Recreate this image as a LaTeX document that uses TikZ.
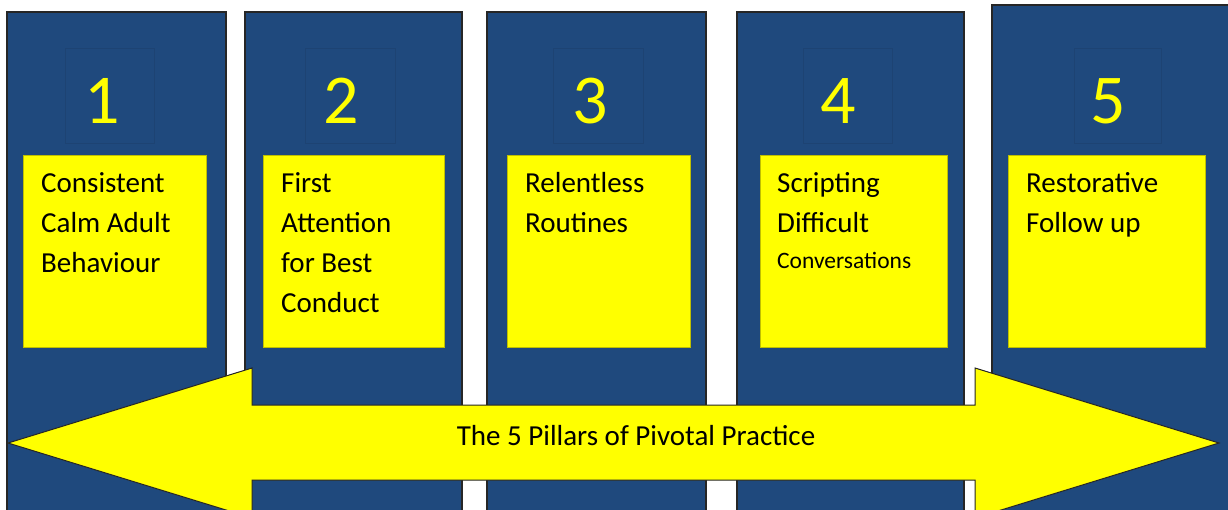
\documentclass[tikz,border=0pt]{standalone}
\usepackage{fontspec}
\setmainfont{Carlito}

\definecolor{pillarblue}{HTML}{1F497D}
\definecolor{pillaryellow}{HTML}{FFFF00}

\begin{document}
\begin{tikzpicture}[x=1pt,y=-1pt]

% Styles
\tikzset{
    pillar/.style={fill=pillarblue, draw=black!85, line width=1.5pt},
    numframe/.style={draw=pillarblue!92!black, line width=0.5pt},
    number/.style={inner sep=0pt, text=pillaryellow, font=\fontsize{70}{70}\selectfont},
    notebox/.style={fill=pillaryellow, draw=pillaryellow!75!black, line width=0.5pt},
    notetext/.style={inner sep=0pt, anchor=base west, align=left, font=\fontsize{29}{40}\selectfont},
    arrowband/.style={fill=pillaryellow, draw=black!85, line width=1pt, line join=miter},
}

% Page size
\useasboundingbox (0,0) rectangle (1228,509);
\clip (0,0) rectangle (1228,509);

% Blue pillars
\draw[pillar] (7,12) rectangle (226,520);
\draw[pillar] (245,12) rectangle (462,520);
\draw[pillar] (487,12) rectangle (706,520);
\draw[pillar] (737,12) rectangle (964,520);
\draw[pillar] (992,5) rectangle (1240,520);

% Number frames
\draw[numframe] (65,48) rectangle (154,143);
\draw[numframe] (305,48) rectangle (395,143);
\draw[numframe] (553,48) rectangle (643,143);
\draw[numframe] (803,48) rectangle (892,143);
\draw[numframe] (1074,48) rectangle (1161,143);

% Numbers
\node[number] (num1) at (102,101) {1};
\node[number] (num2) at (341,101) {2};
\node[number] (num3) at (590,101) {3};
\node[number] (num4) at (838,101) {4};
\node[number] (num5) at (1108,101) {5};

% Yellow notes (anchored at the last baseline)
\draw[notebox] (23,155) rectangle (206,347);
\draw[notebox] (263,155) rectangle (444,347);
\draw[notebox] (507,155) rectangle (690,347);
\draw[notebox] (760,155) rectangle (947,347);
\draw[notebox] (1008,155) rectangle (1205,347);

\node[notetext] (note1) at (41,272) {Consistent\\Calm Adult\\Behaviour};
\node[notetext] (note2) at (281,312) {First\\Attention\\for Best\\Conduct};
\node[notetext] (note3) at (525,232) {Relentless\\Routines};
\node[notetext] (note4) at (777,268)
    {Scripting\\Difficult\\[-4pt]{\fontsize{23.5}{36}\selectfont Conversations}};
\node[notetext] (note5) at (1026,232) {Restorative\\Follow up};

% Double arrow
\draw[arrowband] (8,443) -- (252,368) -- (252,405) -- (975,405) -- (975,368)
    -- (1219,443) -- (975,518) -- (975,480) -- (252,480) -- (252,518) -- cycle;

\node[inner sep=0pt, anchor=base, font=\fontsize{29}{29}\selectfont]
    (title) at (636,445) {The 5 Pillars of Pivotal Practice};

\end{tikzpicture}
\end{document}
